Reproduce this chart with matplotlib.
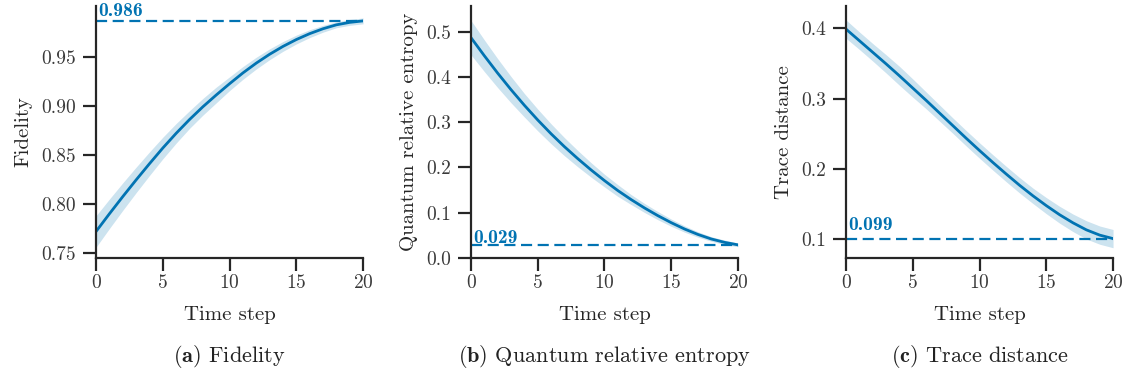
import matplotlib
matplotlib.use("Agg")
import matplotlib.pyplot as plt
import numpy as np

plt.rcParams['font.family'] = 'serif'
plt.rcParams['font.serif'] = ['cmr10', 'DejaVu Serif']
plt.rcParams['mathtext.fontset'] = 'cm'
plt.rcParams['axes.formatter.use_mathtext'] = True

# data
steps = list(range(21))

fidelity = [0.772, 0.790, 0.8075, 0.8245, 0.841, 0.857, 0.872, 0.886, 0.899, 0.911, 0.9225,
            0.9335, 0.9435, 0.9525, 0.9605, 0.9675, 0.9735, 0.9785, 0.9825, 0.985, 0.9865]
fidelity_std = [0.016, 0.015, 0.014, 0.013, 0.012, 0.011, 0.010, 0.009, 0.0085, 0.008, 0.007,
                0.0065, 0.006, 0.0055, 0.005, 0.0045, 0.004, 0.0035, 0.003, 0.003, 0.003]

entropy = [0.487, 0.447, 0.4085, 0.372, 0.3375, 0.305, 0.2745, 0.246, 0.2195, 0.1945, 0.171,
           0.149, 0.129, 0.1105, 0.0935, 0.078, 0.064, 0.052, 0.042, 0.0345, 0.029]
entropy_std = [0.038, 0.035, 0.032, 0.029, 0.026, 0.024, 0.022, 0.020, 0.018, 0.016, 0.014,
               0.013, 0.011, 0.010, 0.009, 0.008, 0.007, 0.006, 0.005, 0.005, 0.004]

trace = [0.399, 0.3825, 0.366, 0.3495, 0.3325, 0.315, 0.2975, 0.2795, 0.2615, 0.2435, 0.226,
         0.209, 0.1925, 0.1765, 0.1615, 0.1475, 0.1345, 0.123, 0.113, 0.1055, 0.1005]
trace_std = [0.013, 0.0125, 0.0125, 0.013, 0.0135, 0.013, 0.012, 0.0115, 0.011, 0.011, 0.011,
             0.011, 0.011, 0.011, 0.011, 0.0115, 0.012, 0.0125, 0.013, 0.013, 0.013]

final_labels = ["0.986", "0.029", "0.099"]
ylabels = ["Fidelity", "Quantum relative entropy", "Trace distance"]
captions = ["(a)", "(b)", "(c)"]
caption_text = ["Fidelity", "Quantum relative entropy", "Trace distance"]

color = '#0173B2'
dark = '#262626'

fig = plt.figure(figsize=(11.3, 3.78), dpi=100)
lefts = [0.085, 0.4168, 0.7487]
ylims = [(0.745, 1.0017), (0.0, 0.557), (0.0729, 0.432)]
yticks = [[0.75, 0.80, 0.85, 0.90, 0.95],
          [0.0, 0.1, 0.2, 0.3, 0.4, 0.5],
          [0.1, 0.2, 0.3, 0.4]]
yfmt = ['%.2f', '%.1f', '%.1f']
text_off = [5, 2, 8.5]

series = [(fidelity, fidelity_std), (entropy, entropy_std), (trace, trace_std)]

for i, (vals, std) in enumerate(series):
    ax = fig.add_axes([lefts[i], 0.3175, 0.2363, 0.6667])
    vals = np.array(vals)
    std = np.array(std)
    ax.fill_between(steps, vals - std, vals + std, color=color, alpha=0.2, lw=0)
    ax.plot(steps, vals, color=color, lw=2.0)
    ax.axhline(vals[-1], color=color, lw=1.6, dashes=(5, 2.5))
    ax.annotate(final_labels[i], xy=(0, vals[-1]), xytext=(2, text_off[i]),
                textcoords='offset pixels', color=color, family='cmb10',
                fontsize=14, va='baseline', ha='left')
    ax.set_xlim(0, 20)
    ax.set_ylim(*ylims[i])
    ax.set_xticks([0, 5, 10, 15, 20])
    ax.set_yticks(yticks[i])
    ax.yaxis.set_major_formatter(matplotlib.ticker.FormatStrFormatter(yfmt[i]))
    for s in ['top', 'right']:
        ax.spines[s].set_visible(False)
    for s in ['left', 'bottom']:
        ax.spines[s].set_linewidth(1.6)
        ax.spines[s].set_color(dark)
    ax.tick_params(axis='both', length=9.5, width=1.6, color=dark,
                   labelcolor='#3a3a3a', labelsize=14)
    ax.tick_params(axis='x', pad=2)
    ax.tick_params(axis='y', pad=5)
    ax.set_xlabel("Time step", fontsize=15, color=dark, labelpad=10)
    ax.set_ylabel(ylabels[i], fontsize=15, color=dark, labelpad=6)
    fig.text(lefts[i] + 0.2363 / 2, 0.056,
             r"$\mathbf{" + captions[i] + r"}$ " + caption_text[i],
             ha='center', va='center', fontsize=16, color='#222222')

fig.savefig("out.png", dpi=100)
